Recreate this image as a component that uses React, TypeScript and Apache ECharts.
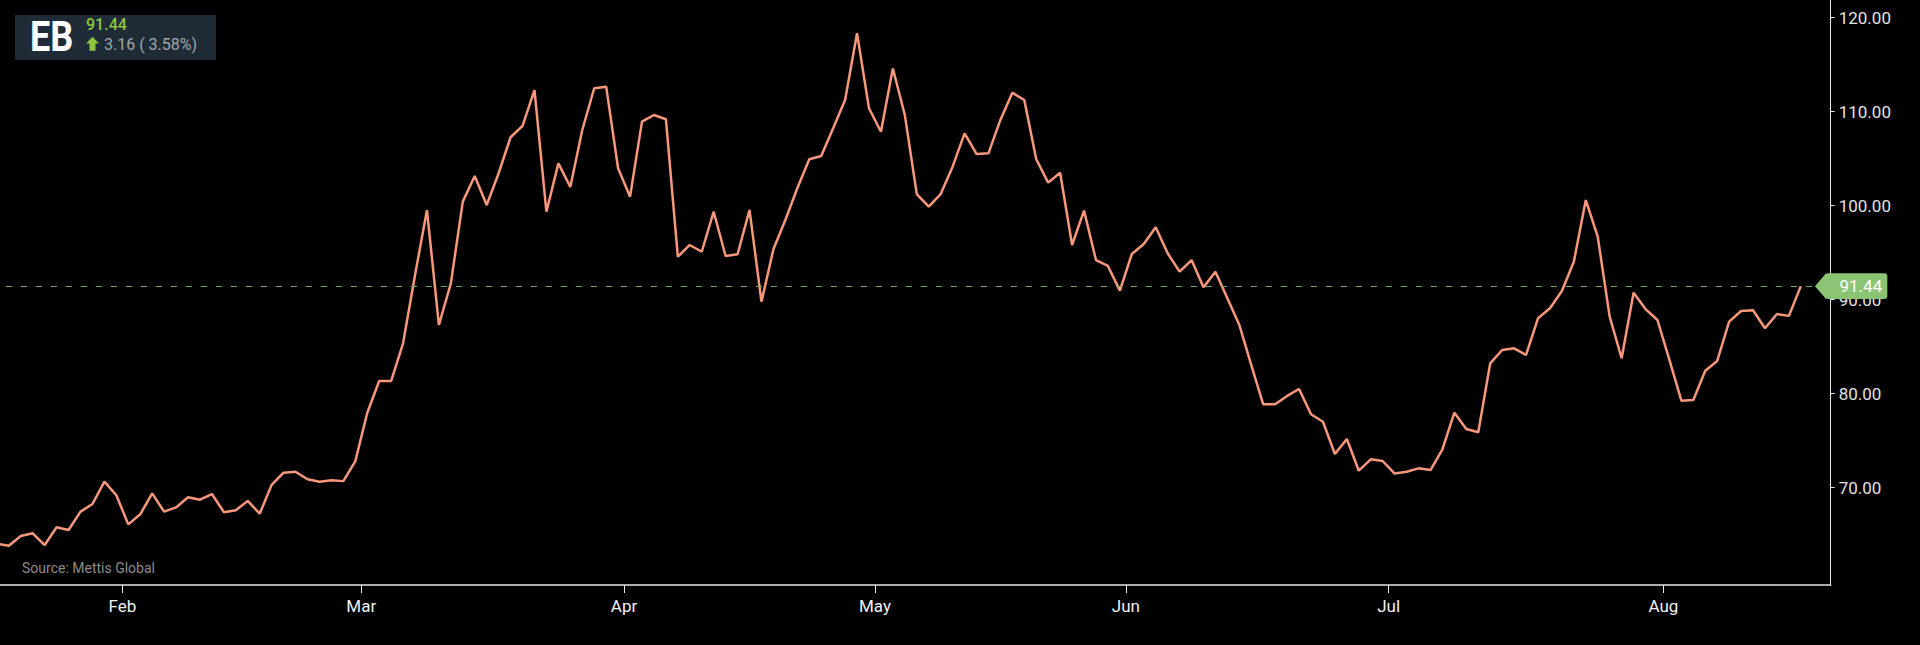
import React, { useEffect, useRef } from 'react';
import * as echarts from 'echarts';

// Daily closing prices (trading days, late Jan -> mid Aug)
const prices: number[] = [
  64.05, 63.83, 64.86, 65.15, 63.9, 65.8, 65.5, 67.45, 68.27, 70.64,
  69.2, 66.1, 67.17, 69.4, 67.45, 67.9, 68.98, 68.72, 69.33, 67.4,
  67.6, 68.6, 67.23, 70.3, 71.6, 71.7, 70.9, 70.64, 70.8, 70.7,
  72.8, 77.95, 81.35, 81.35, 85.36, 92.6, 99.54, 87.31, 91.74, 100.43,
  103.16, 100.07, 103.45, 107.28, 108.5, 112.3, 99.36, 104.5, 102.0, 108.05,
  112.49, 112.66, 103.98, 100.96, 108.94, 109.65, 109.2, 94.57, 95.82, 95.1,
  99.36, 94.65, 94.83, 99.54, 89.79, 95.36, 98.48, 101.85, 104.94, 105.29,
  108.23, 111.24, 118.34, 110.36, 107.87, 114.6, 109.65, 101.24, 99.9, 101.24,
  104.15, 107.7, 105.5, 105.57, 109.12, 112.02, 111.24, 104.94, 102.45, 103.51,
  95.82, 99.47, 94.22, 93.59, 90.96, 94.86, 95.93, 97.7, 94.94, 92.98,
  94.22, 91.32, 92.98, 90.15, 87.31, 83.05, 78.87, 78.87, 79.76, 80.5,
  77.81, 77.02, 73.59, 75.18, 71.81, 73.02, 72.84, 71.5, 71.7, 72.06,
  71.88, 74.09, 77.98, 76.24, 75.9, 83.23, 84.65, 84.83, 84.12, 88.02,
  89.09, 90.93, 94.04, 100.6, 96.7, 88.19, 83.77, 90.74, 89.0, 87.84,
  83.59, 79.26, 79.33, 82.45, 83.48, 87.66, 88.8, 88.87, 86.96, 88.48,
  88.28, 91.44,
];

// Month labels and the index of the first trading day of each month
const monthLabels: string[] = ['Feb', 'Mar', 'Apr', 'May', 'Jun', 'Jul', 'Aug'];
const monthStartIdx: number[] = [11, 31, 53, 74, 95, 117, 140];

// Y axis tick values
const yTicks: number[] = [70, 80, 90, 100, 110, 120];

const ticker = 'EB';
const lastPrice = 91.44;
const change = 3.16;
const changePct = 3.58;
const sourceText = 'Source: Mettis Global';
const trailingEmptySlots = 2;

export default function App() {
  const ref = useRef<HTMLDivElement>(null);

  useEffect(() => {
    document.body.style.margin = '0';
    document.body.style.background = '#000';
    const chart = echarts.init(ref.current as HTMLDivElement, null, { renderer: 'svg' });

    const seriesData = prices.map((v, i) => [i, v]);
    // month boundaries sit half a trading day before the first day of each month
    const monthBounds = monthStartIdx.map((i) => i - 0.5);
    const labelFor = (v: number) => {
      const k = monthBounds.findIndex((b) => Math.abs(b - v) < 1e-6);
      return k >= 0 ? monthLabels[k] : '';
    };

    const lineColor = '#f7977b';
    const green = '#8cc476';

    chart.setOption({
      animation: false,
      backgroundColor: '#000',
      grid: {
        left: -9.1,
        right: 89.3,
        top: 0,
        bottom: 60,
        containLabel: false,
        outerBoundsMode: 'none',
      },
      xAxis: {
        type: 'value',
        min: -0.5,
        max: prices.length - 0.5 + trailingEmptySlots,
        axisLine: { show: true, onZero: false, lineStyle: { color: '#e6e6e6', width: 1.5 } },
        axisTick: { show: true, customValues: monthBounds, length: 8, lineStyle: { color: '#e6e6e6', width: 1 } },
        axisLabel: {
          customValues: monthBounds,
          formatter: (v: number) => labelFor(v),
          color: '#f0f0f0',
          fontFamily: 'Roboto',
          fontSize: 17,
          margin: 12,
        },
        splitLine: { show: false },
      },
      yAxis: {
        type: 'value',
        position: 'right',
        min: 59.65,
        max: 121.88,
        axisLine: { show: true, onZero: false, lineStyle: { color: '#e6e6e6', width: 1 } },
        axisTick: { show: true, length: 4, customValues: yTicks, lineStyle: { color: '#e6e6e6' } },
        axisLabel: {
          customValues: yTicks,
          formatter: (v: number) => v.toFixed(2),
          color: '#e2e2e2',
          fontFamily: 'Roboto',
          fontSize: 17,
          margin: 8,
        },
        splitLine: { show: false },
      },
      series: [
        {
          type: 'line',
          data: seriesData,
          showSymbol: false,
          symbol: 'none',
          lineStyle: { color: lineColor, width: 2.5 },
          itemStyle: { color: lineColor },
          markLine: {
            silent: true,
            symbol: 'none',
            label: { show: false },
            lineStyle: { color: '#74a95e', type: [6, 9], width: 1.2 },
            data: [{ yAxis: lastPrice }],
          },
        },
      ],
    });

    const y = chart.convertToPixel({ yAxisIndex: 0 }, lastPrice) as number;
    const arrowGreen = '#8cc63f';

    chart.setOption({
      graphic: [
        // price tag on the y axis
        {
          type: 'polygon',
          z: 100,
          shape: { points: [[1815, y], [1826, y - 12.8], [1826, y + 12.8]] },
          style: { fill: green },
        },
        {
          type: 'rect',
          z: 100,
          shape: { x: 1825, y: y - 12.8, width: 62.3, height: 25.6, r: 3 },
          style: { fill: green },
        },
        {
          type: 'text',
          z: 101,
          x: 1839.5,
          y: y,
          style: {
            text: lastPrice.toFixed(2),
            fill: '#ffffff',
            font: '17px Roboto',
            verticalAlign: 'middle',
            align: 'left',
          },
        },
        // ticker box
        {
          type: 'rect',
          z: 100,
          shape: { x: 15, y: 15, width: 201, height: 45 },
          style: { fill: '#1f2b37' },
        },
        {
          type: 'text',
          z: 101,
          x: 30,
          y: 36,
          scaleX: 0.84,
          style: {
            text: ticker,
            fill: '#ffffff',
            font: 'bold 43px Roboto',
            verticalAlign: 'middle',
            align: 'left',
          },
        },
        {
          type: 'text',
          z: 101,
          x: 86,
          y: 24,
          style: {
            text: lastPrice.toFixed(2),
            fill: arrowGreen,
            font: '500 16px Roboto',
            verticalAlign: 'middle',
            align: 'left',
          },
        },
        {
          type: 'polygon',
          z: 101,
          shape: {
            points: [
              [92.5, 36.7], [99, 43.5], [95.5, 43.5], [95.5, 50.7],
              [89.5, 50.7], [89.5, 43.5], [86, 43.5],
            ],
          },
          style: { fill: arrowGreen },
        },
        {
          type: 'text',
          z: 101,
          x: 104,
          y: 44,
          style: {
            text: `${change.toFixed(2)} ( ${changePct.toFixed(2)}%)`,
            fill: '#a3a7ab',
            font: '16px Roboto',
            verticalAlign: 'middle',
            align: 'left',
          },
        },
        // source note
        {
          type: 'text',
          z: 101,
          x: 22,
          y: 568,
          style: {
            text: sourceText,
            fill: '#8c8c8c',
            font: '14px Roboto',
            verticalAlign: 'middle',
            align: 'left',
          },
        },
      ],
    });

    return () => chart.dispose();
  }, []);

  return (
    <div
      ref={ref}
      style={{ position: 'fixed', left: 0, top: 0, width: 1920, height: 645, background: '#000' }}
    />
  );
}
